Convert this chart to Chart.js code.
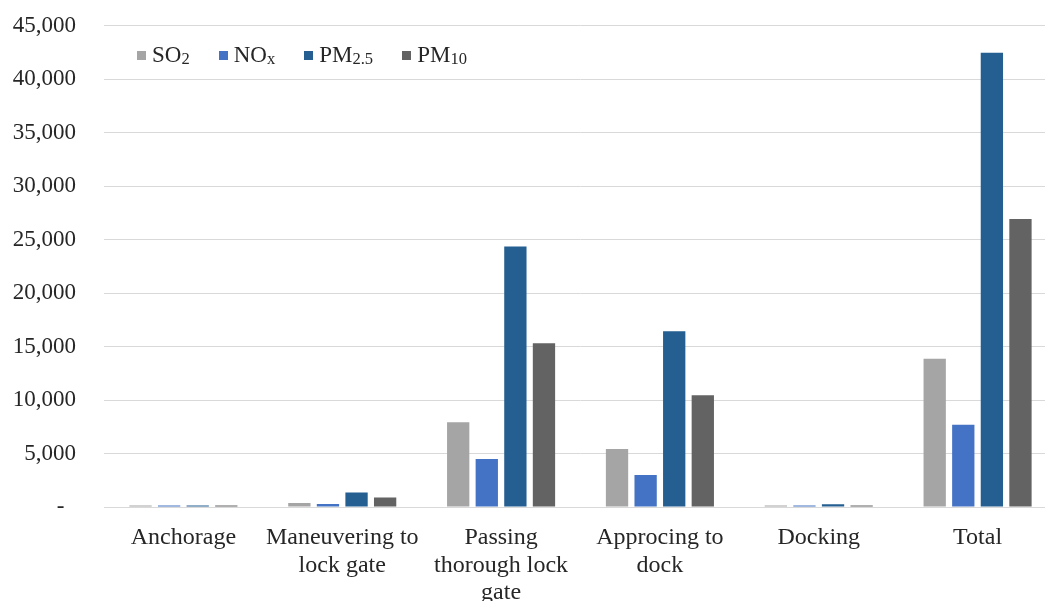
<!DOCTYPE html>
<html>
<head>
<meta charset="utf-8">
<script src="https://cdn.jsdelivr.net/npm/chart.js@4"></script>
<style>
  html, body { margin: 0; padding: 0; background: #fff; overflow: hidden; }
  #wrap { position: relative; width: 1045px; height: 601px; overflow: hidden; }
  #box { position: absolute; left: 0; top: -16px; width: 1060px; height: 628px; }
  #legend { position: absolute; left: 137px; top: 42px; display: flex; font-family: "Liberation Serif", "Times New Roman", serif; font-size: 23px; color: #262626; }
  .item { display: flex; align-items: center; margin-right: 29px; }
  .swatch { width: 9px; height: 9px; margin-right: 6px; }
  sub { font-size: 0.72em; vertical-align: -0.12em; }
</style>
</head>
<body>
<div id="wrap">
  <div id="box"><canvas id="emissionChart"></canvas></div>
  <div id="legend"></div>
</div>
<script>
const categories = [
  'Anchorage',
  ['Maneuvering to', 'lock gate'],
  ['Passing', 'thorough lock', 'gate'],
  ['Approcing to', 'dock'],
  'Docking',
  'Total'
];
const seriesNames = [['SO', '2'], ['NO', 'x'], ['PM', '2.5'], ['PM', '10']];
const seriesColors = ['#A5A5A5', '#4472C4', '#255E91', '#636363'];
const so2 = [150, 380, 7935, 5415, 150, 13860];
const nox = [150, 290, 4480, 2990, 150, 7700];
const pm25 = [150, 1350, 24370, 16430, 250, 42480];
const pm10 = [150, 890, 15310, 10460, 150, 26935];
const yTicks = [0, 5000, 10000, 15000, 20000, 25000, 30000, 35000, 40000, 45000];

const seriesValues = [so2, nox, pm25, pm10];
const serif = '"Liberation Serif", "Times New Roman", serif';

const legendEl = document.getElementById('legend');
seriesNames.forEach((name, i) => {
  legendEl.innerHTML += `<div class="item"><span class="swatch" style="background:${seriesColors[i]}"></span><span>${name[0]}<sub>${name[1]}</sub></span></div>`;
});

const ctx = document.getElementById('emissionChart').getContext('2d');
const emissionChart = new Chart(ctx, {
  type: 'bar',
  data: {
    labels: categories,
    datasets: seriesValues.map((vals, i) => ({
      label: seriesNames[i].join(''),
      data: vals,
      backgroundColor: seriesColors[i],
      categoryPercentage: 0.72,
      barPercentage: 0.78
    }))
  },
  options: {
    responsive: true,
    maintainAspectRatio: false,
    animation: false,
    layout: { padding: { left: 12, right: 3, top: 0, bottom: 0 } },
    plugins: {
      legend: { display: false },
      tooltip: { enabled: false }
    },
    scales: {
      x: {
        grid: { display: false, drawTicks: false },
        border: { display: true, color: '#D9D9D9', width: 1 },
        afterFit: axis => { axis.height = 105; },
        ticks: {
          color: '#262626',
          font: { family: serif, size: 24, lineHeight: 1.15 },
          padding: 17,
          autoSkip: false,
          maxRotation: 0
        }
      },
      y: {
        min: 0,
        max: 45000,
        afterBuildTicks: axis => { axis.ticks = yTicks.map(v => ({ value: v })); },
        afterFit: axis => { axis.width = 92; },
        grid: { color: '#D9D9D9', drawTicks: false },
        border: { display: false },
        ticks: {
          color: '#262626',
          font: { family: serif, size: 23 },
          padding: 28,
          callback: v => v === 0 ? '-  ' : v.toLocaleString('en-US')
        }
      }
    }
  }
});
</script>
</body>
</html>
